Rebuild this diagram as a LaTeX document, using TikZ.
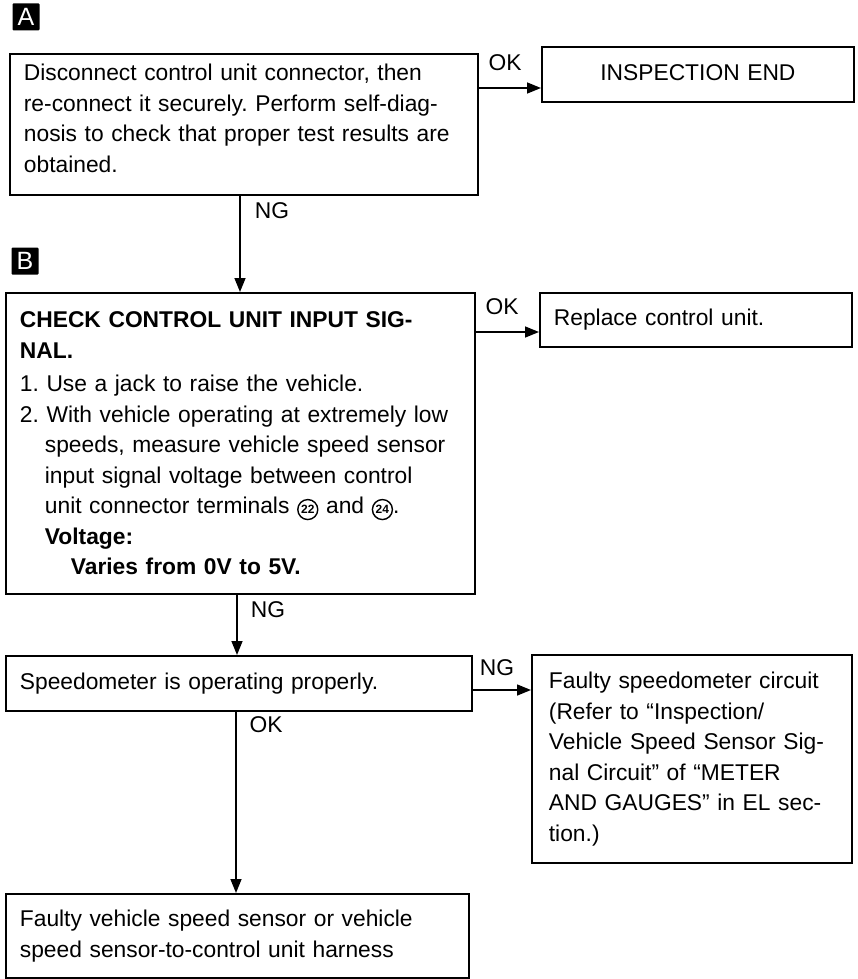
\documentclass[tikz,border=0pt]{standalone}
\usepackage{fontspec}
\setmainfont{Liberation Sans}
\usetikzlibrary{arrows.meta}
\frenchspacing

\newcommand{\termno}[1]{\tikz[baseline=(tn.base)]\node[circle, draw, line width=1.4pt, inner sep=0pt, minimum size=20pt, font=\fontsize{12}{12}\selectfont\bfseries] (tn) {#1};}

\begin{document}
\begin{tikzpicture}[
    x=1pt,
    y=-1pt,
    box/.style={draw, line width=1.8pt, anchor=north west, align=left, inner xsep=14pt, inner ysep=2pt, font=\fontsize{22.8}{30.5}\selectfont},
    tag/.style={fill=black, text=white, minimum width=27pt, minimum height=27pt, inner sep=0pt, rounded corners=1pt, font=\fontsize{25}{25}\selectfont},
    lbl/.style={inner sep=0pt, font=\fontsize{22.8}{22.8}\selectfont},
    arrow/.style={-{Triangle[length=14pt, width=11pt]}, line width=1.5pt}
]
\useasboundingbox (0,0) rectangle (857,979);

% Step tags
\node [tag] (tagA) at (26, 17) {A};
\node [tag] (tagB) at (25, 261) {B};

% Step A
\node [box, minimum width=468pt, minimum height=141pt, text width=440pt] (reconnect) at (9, 53) {Disconnect control unit connector, then\\ re-connect it securely. Perform self-diag-\\ nosis to check that proper test results are\\ obtained.\rule[-12pt]{0pt}{12pt}};
\node [box, minimum width=312pt, minimum height=55pt, text width=284pt, align=center] (inspend) at (541, 46) {INSPECTION END\rule[-4pt]{0pt}{4pt}};

% Step B
\node [box, minimum width=469pt, minimum height=301pt, text width=441pt] (checksig) at (5, 292) {\textbf{CHECK CONTROL UNIT INPUT SIG-}\\ \textbf{NAL.}\\[3pt] 1. Use a jack to raise the vehicle.\\ 2. With vehicle operating at extremely low\\ \hspace*{25pt}speeds, measure vehicle speed sensor\\ \hspace*{25pt}input signal voltage between control\\ \hspace*{25pt}unit connector terminals \termno{22} and \termno{24}.\\ \hspace*{25pt}\textbf{Voltage:}\\ \hspace*{51pt}\textbf{Varies from 0V to 5V.}};
\node [box, minimum width=312pt, minimum height=54pt, text width=284pt] (replace) at (539, 292) {Replace control unit.};

% Speedometer check
\node [box, minimum width=466pt, minimum height=55pt, text width=438pt] (speedo) at (5, 655) {Speedometer is operating properly.};
\node [box, minimum width=314pt, minimum height=208pt, text width=286pt, inner xsep=17pt] (meter) at (531, 654) {Faulty speedometer circuit\\ (Refer to “Inspection/\\ Vehicle Speed Sensor Sig-\\ nal Circuit” of “METER\\ AND GAUGES” in EL sec-\\ tion.)};
\node [box, minimum width=463pt, minimum height=84pt, text width=435pt] (sensor) at (5, 893) {Faulty vehicle speed sensor or vehicle\\ speed sensor-to-control unit harness};

% Connectors
\draw [arrow] (reconnect.east |- 0,88) -- (inspend.west |- 0,88);
\draw [arrow] (reconnect.south -| 240,0) -- (checksig.north -| 240,0);
\draw [arrow] (checksig.east |- 0,332) -- (replace.west |- 0,332);
\draw [arrow] (checksig.south -| 237,0) -- (speedo.north -| 237,0);
\draw [arrow] (speedo.east |- 0,690) -- (meter.west |- 0,690);
\draw [arrow] (speedo.south -| 236,0) -- (sensor.north -| 236,0);

% Branch labels
\node [lbl] (okA) at (505, 63) {OK};
\node [lbl] (ngA) at (272, 211) {NG};
\node [lbl] (okB) at (502, 307) {OK};
\node [lbl] (ngB) at (268, 610) {NG};
\node [lbl] (ngC) at (497, 668) {NG};
\node [lbl] (okC) at (266, 725) {OK};

\end{tikzpicture}
\end{document}
